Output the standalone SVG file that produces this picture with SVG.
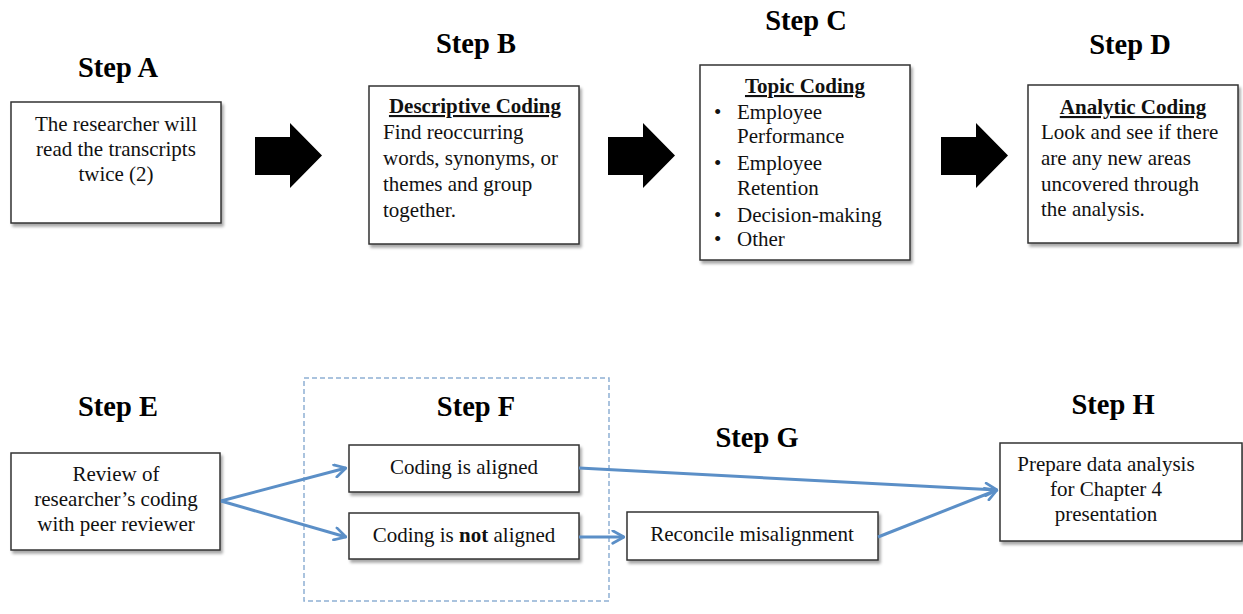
<svg xmlns="http://www.w3.org/2000/svg" width="1243" height="614" viewBox="0 0 1243 614">
<defs>
<filter id="sh" x="-10%" y="-10%" width="130%" height="130%"><feGaussianBlur in="SourceAlpha" stdDeviation="1.5"/><feOffset dx="2" dy="3"/><feComponentTransfer><feFuncA type="linear" slope="0.35"/></feComponentTransfer><feMerge><feMergeNode/><feMergeNode in="SourceGraphic"/></feMerge></filter>
<marker id="ah" viewBox="0 0 12 12" refX="11" refY="6" markerWidth="5" markerHeight="5" orient="auto" markerUnits="strokeWidth"><polyline points="2,1 11,6 2,11" fill="none" stroke="#5b8fc7" stroke-width="2.2" stroke-linecap="round" stroke-linejoin="round"/></marker>
</defs>
<style>
.box{fill:#fff;stroke:#333;stroke-width:1.5;filter:url(#sh)}
.t{font-family:"Liberation Serif","Times New Roman",serif;font-size:21px;fill:#111}
.c{text-anchor:middle}
.h{font-family:"Liberation Serif","Times New Roman",serif;font-size:28.5px;font-weight:bold;fill:#000;text-anchor:middle}
.hd{font-weight:bold;text-decoration:underline}
.big{fill:#000}
.con{fill:none;stroke:#5b8fc7;stroke-width:3;marker-end:url(#ah)}
</style>
<rect width="1243" height="614" fill="#fff"/>
<g id="stepA">
<text class="h" x="118" y="77">Step A</text>
<rect class="box" x="11" y="102" width="210" height="121"/>
<text class="t c" x="116" y="131">The researcher will</text>
<text class="t c" x="116" y="156">read the transcripts</text>
<text class="t c" x="116" y="181">twice (2)</text>
</g>
<g id="stepB">
<text class="h" x="476" y="53">Step B</text>
<rect class="box" x="369" y="86" width="210" height="158"/>
<text class="t c hd" x="475" y="113">Descriptive Coding</text>
<text class="t" x="383" y="139">Find reoccurring</text>
<text class="t" x="383" y="165">words, synonyms, or</text>
<text class="t" x="383" y="191">themes and group</text>
<text class="t" x="383" y="217">together.</text>
</g>
<g id="stepC">
<text class="h" x="806" y="30">Step C</text>
<rect class="box" x="700" y="65" width="210" height="195"/>
<text class="t c hd" x="805" y="93">Topic Coding</text>
<text class="t" x="714" y="119">•</text>
<text class="t" x="737" y="119">Employee</text>
<text class="t" x="737" y="143">Performance</text>
<text class="t" x="714" y="170">•</text>
<text class="t" x="737" y="170">Employee</text>
<text class="t" x="737" y="195">Retention</text>
<text class="t" x="714" y="222">•</text>
<text class="t" x="737" y="222">Decision-making</text>
<text class="t" x="714" y="246">•</text>
<text class="t" x="737" y="246">Other</text>
</g>
<g id="stepD">
<text class="h" x="1130" y="54">Step D</text>
<rect class="box" x="1028" y="85" width="210" height="158"/>
<text class="t c hd" x="1133" y="114">Analytic Coding</text>
<text class="t" x="1041" y="139">Look and see if there</text>
<text class="t" x="1041" y="165">are any new areas</text>
<text class="t" x="1041" y="191">uncovered through</text>
<text class="t" x="1041" y="216">the analysis.</text>
</g>
<g id="bigArrows">
<polygon class="big" points="255,137 290,137 290,123 322,155.5 290,188 290,175 255,175"/>
<polygon class="big" points="608,137 643,137 643,123 675,155.5 643,188 643,175 608,175"/>
<polygon class="big" points="941,137 976,137 976,123 1008,155.5 976,188 976,175 941,175"/>
</g>
<g id="stepF-group">
<rect x="304" y="378" width="305" height="223" fill="none" stroke="#8fb0d4" stroke-width="1.5" stroke-dasharray="5,3"/>
</g>
<g id="stepE">
<text class="h" x="118" y="416">Step E</text>
<rect class="box" x="11" y="453" width="209" height="97"/>
<text class="t c" x="116" y="481">Review of</text>
<text class="t c" x="116" y="506">researcher’s coding</text>
<text class="t c" x="116" y="531">with peer reviewer</text>
</g>
<g id="stepF">
<text class="h" x="476" y="416">Step F</text>
</g>
<g id="aligned">
<rect class="box" x="349" y="445" width="230" height="47"/>
<text class="t c" x="464" y="474">Coding is aligned</text>
</g>
<g id="notAligned">
<rect class="box" x="349" y="513" width="230" height="46"/>
<text class="t c" x="464" y="542">Coding is <tspan font-weight="bold">not</tspan> aligned</text>
</g>
<g id="stepG">
<text class="h" x="757" y="447">Step G</text>
<rect class="box" x="627" y="512" width="251" height="48"/>
<text class="t c" x="752" y="541">Reconcile misalignment</text>
</g>
<g id="stepH">
<text class="h" x="1113" y="414">Step H</text>
<rect class="box" x="1000" y="443" width="242" height="98"/>
<text class="t c" x="1106" y="471">Prepare data analysis</text>
<text class="t c" x="1106" y="496">for Chapter 4</text>
<text class="t c" x="1106" y="521">presentation</text>
</g>
<g id="connectors">
<line class="con" x1="221" y1="501" x2="346" y2="468"/>
<line class="con" x1="221" y1="501" x2="346" y2="537"/>
<line class="con" x1="579" y1="468" x2="997" y2="490"/>
<line class="con" x1="579" y1="537" x2="624" y2="537"/>
<line class="con" x1="878" y1="537" x2="997" y2="490"/>
</g>
</svg>
